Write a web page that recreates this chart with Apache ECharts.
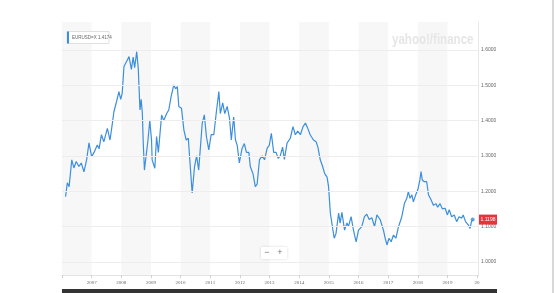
<!DOCTYPE html>
<html>
<head>
<meta charset="utf-8">
<script src="https://cdn.jsdelivr.net/npm/echarts@6/dist/echarts.min.js"></script>
<style>html,body{margin:0;padding:0;background:#fff;}#c{width:560px;height:293px;}</style>
</head>
<body>
<div id="c"></div>
<script>
// time in decimal years, values = EUR/USD close
const time = [
  2006.12,2006.18,2006.24,2006.33,2006.40,2006.48,2006.57,2006.65,2006.74,2006.83,2006.91,
  2007.00,2007.08,2007.19,2007.25,2007.33,2007.41,2007.53,2007.62,2007.70,2007.75,2007.84,2007.92,2007.98,
  2008.03,2008.09,2008.14,2008.20,2008.26,2008.34,2008.40,2008.45,2008.52,2008.57,2008.63,2008.67,2008.71,2008.74,2008.78,2008.84,2008.90,2008.96,
  2009.02,2009.04,2009.13,2009.19,2009.25,2009.36,2009.43,2009.53,2009.60,2009.68,2009.77,2009.83,2009.89,2009.94,
  2010.03,2010.11,2010.19,2010.26,2010.31,2010.39,2010.47,2010.54,2010.61,2010.73,2010.80,2010.87,2010.95,
  2011.03,2011.12,2011.20,2011.29,2011.34,2011.42,2011.49,2011.57,2011.65,2011.71,2011.79,2011.85,2011.91,2011.98,
  2012.07,2012.15,2012.22,2012.30,2012.35,2012.44,2012.52,2012.58,2012.66,2012.75,2012.83,2012.92,2012.99,
  2013.06,2013.14,2013.22,2013.29,2013.36,2013.44,2013.50,2013.59,2013.70,2013.79,2013.87,2013.95,
  2014.04,2014.13,2014.21,2014.28,2014.37,2014.48,2014.57,2014.63,2014.71,2014.79,2014.86,2014.94,2014.99,
  2015.05,2015.10,2015.18,2015.24,2015.33,2015.38,2015.44,2015.53,2015.61,2015.66,2015.75,2015.83,2015.92,
  2016.00,2016.11,2016.20,2016.28,2016.36,2016.45,2016.54,2016.62,2016.73,2016.84,2016.90,2016.96,
  2017.03,2017.10,2017.18,2017.26,2017.35,2017.46,2017.55,2017.63,2017.68,2017.74,2017.80,2017.85,2017.93,
  2018.00,2018.07,2018.11,2018.15,2018.22,2018.30,2018.36,2018.45,2018.53,2018.61,2018.67,2018.75,2018.83,2018.92,
  2019.00,2019.06,2019.14,2019.23,2019.31,2019.39,2019.48,2019.53,2019.61,2019.70,2019.76,2019.81,2019.85
];
const rate = [
  1.185,1.224,1.213,1.289,1.266,1.284,1.270,1.280,1.255,1.289,1.337,
  1.298,1.310,1.331,1.320,1.360,1.340,1.378,1.345,1.393,1.425,1.454,1.482,1.460,
  1.477,1.553,1.549,1.571,1.581,1.545,1.580,1.550,1.595,1.550,1.430,1.460,1.420,1.337,1.260,1.265,1.345,1.400,
  1.345,1.289,1.265,1.355,1.310,1.416,1.400,1.420,1.430,1.468,1.501,1.490,1.496,1.440,
  1.435,1.374,1.345,1.350,1.289,1.195,1.270,1.300,1.260,1.393,1.416,1.355,1.317,
  1.360,1.360,1.420,1.482,1.420,1.450,1.420,1.440,1.406,1.345,1.410,1.345,1.330,1.280,
  1.320,1.335,1.310,1.310,1.270,1.250,1.213,1.220,1.289,1.300,1.289,1.322,1.330,
  1.364,1.310,1.310,1.293,1.300,1.325,1.290,1.336,1.350,1.383,1.360,1.370,
  1.360,1.383,1.393,1.380,1.360,1.345,1.340,1.325,1.289,1.270,1.250,1.240,1.213,
  1.138,1.140,1.067,1.080,1.138,1.110,1.140,1.090,1.110,1.100,1.128,1.090,1.057,
  1.090,1.100,1.128,1.135,1.120,1.125,1.100,1.133,1.120,1.090,1.067,1.048,
  1.067,1.057,1.076,1.067,1.100,1.128,1.166,1.180,1.199,1.180,1.190,1.170,1.190,
  1.204,1.232,1.256,1.232,1.227,1.227,1.190,1.175,1.160,1.165,1.155,1.165,1.150,1.152,
  1.133,1.148,1.128,1.133,1.114,1.128,1.124,1.133,1.114,1.105,1.095,1.114,1.1198
];
const yTicks = [1.0, 1.1, 1.2, 1.3, 1.4, 1.5, 1.6];
const shadedYears = [2006, 2008, 2010, 2012, 2014, 2016, 2018];
const symbolName = 'EURUSD=X';
const legendValue = '1.4174';
const lastPrice = 1.1198;

const lineData = time.map((t, i) => [t, rate[i]]);
const BLUE = '#3c8fdd';

const chart = echarts.init(document.getElementById('c'), null, {renderer: 'canvas'});
chart.setOption({
  animation: false,
  backgroundColor: '#fff',
  grid: {left: 62, right: 82, top: 22, bottom: 18},
  xAxis: {
    type: 'value', min: 2006, max: 2020.03, interval: 1,
    axisLine: {show: true, lineStyle: {color: '#e3e3e3', width: 1}},
    axisTick: {show: true, length: 3, lineStyle: {color: '#d0d0d0'}},
    axisLabel: {
      fontSize: 5, color: '#666', margin: 5, fontFamily: 'Liberation Serif',
      formatter: v => v === 2006 ? '' : (v >= 2020 ? '20' : String(v))
    },
    splitLine: {show: false}
  },
  yAxis: {
    type: 'value', position: 'right', min: 0.963, max: 1.679,
    axisLine: {show: true, lineStyle: {color: '#e8e8e8'}},
    axisTick: {show: false},
    splitLine: {show: false},
    axisLabel: {
      customValues: yTicks, fontSize: 5, color: '#666', margin: 3,
      formatter: v => v.toFixed(4)
    }
  },
  series: [
    {
      type: 'line', data: lineData, z: 1, silent: true, symbol: 'none',
      lineStyle: {opacity: 0},
      markArea: {
        silent: true,
        itemStyle: {color: '#f7f7f7', opacity: 1},
        data: shadedYears.map(y => [{xAxis: y}, {xAxis: y + 1}])
      },
      markLine: {
        silent: true, symbol: 'none', label: {show: false},
        lineStyle: {color: '#ededed', width: 1, type: 'solid'},
        data: yTicks.map(v => ({yAxis: v}))
      }
    },
    {
      type: 'line', data: lineData, z: 3, symbol: 'none',
      lineStyle: {color: BLUE, width: 1.2}
    },
    {
      type: 'scatter', z: 4, symbolSize: 4,
      itemStyle: {color: BLUE},
      data: [[time[time.length - 1], rate[rate.length - 1]]]
    }
  ]
});

const py = chart.convertToPixel({yAxisIndex: 0}, lastPrice);
chart.setOption({
  graphic: [
    {type: 'group', z: 100, children: [
      {type: 'rect', z: 100, shape: {x: 67, y: 31.5, width: 42, height: 12}, style: {fill: '#fff', stroke: '#e0e0e0', lineWidth: 1}},
      {type: 'rect', z: 101, shape: {x: 67, y: 31.5, width: 2, height: 12}, style: {fill: BLUE}},
      {type: 'text', z: 101, x: 72, y: 37.5, style: {text: symbolName + ' ' + legendValue, fontSize: 4.5, fill: '#666', verticalAlign: 'middle'}}
    ]},
    {type: 'text', z: 100, x: 392, y: 32, scaleX: 0.77, style: {text: 'yahoo!/finance', font: 'bold 15px "Liberation Sans", sans-serif', fill: '#e6e6e6'}},
    {type: 'rect', z: 100, shape: {x: 479, y: py - 5, width: 18, height: 10}, style: {fill: '#e8333d'}},
    {type: 'text', z: 101, x: 488, y: py, style: {text: lastPrice.toFixed(4), fontSize: 5, fill: '#fff', align: 'center', verticalAlign: 'middle'}},
    {type: 'rect', z: 100, shape: {x: 261, y: 247, width: 26, height: 12, r: 1}, style: {fill: '#fff', shadowBlur: 3, shadowColor: 'rgba(0,0,0,0.15)'}},
    {type: 'text', z: 101, x: 267, y: 253, style: {text: '−', fontSize: 9, fill: '#777', align: 'center', verticalAlign: 'middle'}},
    {type: 'text', z: 101, x: 280, y: 253, style: {text: '+', fontSize: 9, fill: '#777', align: 'center', verticalAlign: 'middle'}},
    {type: 'rect', z: 100, shape: {x: 62, y: 289, width: 435, height: 4}, style: {fill: '#333'}},
    {type: 'rect', z: 100, shape: {x: 552, y: 0, width: 2, height: 293}, style: {fill: '#d8d8d8'}}
  ]
});
</script>
</body>
</html>
